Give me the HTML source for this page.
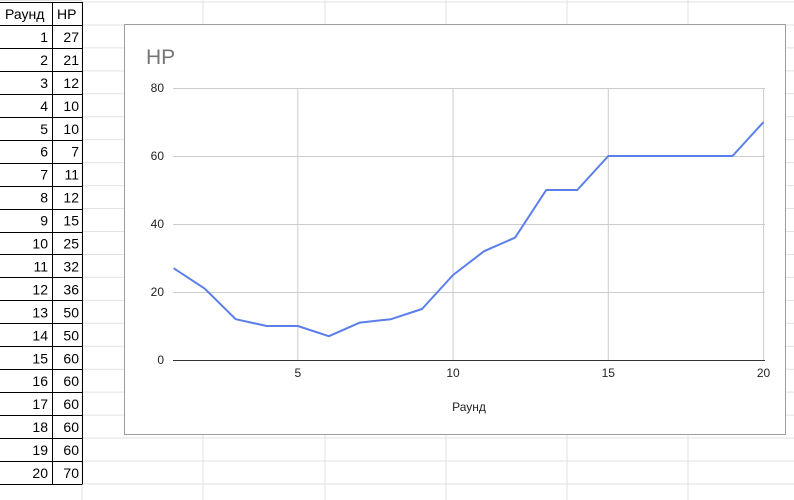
<!DOCTYPE html>
<html><head><meta charset="utf-8"><style>
body{margin:0;width:794px;height:500px;overflow:hidden;background:#fff;font-family:"Liberation Sans",Arial,sans-serif;}
</style></head><body>
<svg width="794" height="500" style="position:absolute;left:0;top:0">
<g id="grid"></g>
<g id="table"></g>
<rect x="124.5" y="24.5" width="661" height="410" fill="#fff" stroke="#9e9e9e"/>
<text x="146" y="64" font-size="21" fill="#757575">HP</text>
<g id="plot"></g>
<text x="469" y="411" font-size="12" text-anchor="middle" fill="#222">Раунд</text>
</svg>
<script>
const rounds=[1,2,3,4,5,6,7,8,9,10,11,12,13,14,15,16,17,18,19,20];
const hp=[27,21,12,10,10,7,11,12,15,25,32,36,50,50,60,60,60,60,60,70];
const xTicks=[5,10,15,20];
const yTicks=[0,20,40,60,80];
const NS="http://www.w3.org/2000/svg";
function mk(t,a,p,txt){const e=document.createElementNS(NS,t);for(const k in a)e.setAttribute(k,a[k]);if(txt!==undefined)e.textContent=txt;p.appendChild(e);return e;}
const X=v=>173.6+(v-1)*31.05, Y=v=>360-v*3.4;
// sheet grid
const g=document.getElementById('grid');
const rowH=22.95;
for(let i=0;i<=22;i++){const y=2+i*rowH;const l=mk('line',{x1:82,x2:794,y1:y,y2:y,stroke:'#e2e2e2'},g);}
for(const x of [82,203,325,446,567,688]){const l=mk('line',{x1:x,x2:x,y1:0,y2:500,stroke:'#e2e2e2'},g);}
mk('line',{x1:0,x2:82,y1:0.5,y2:0.5,stroke:'#e2e2e2'},g);
// table
const t=document.getElementById('table');
for(let i=0;i<=21;i++){const y=Math.round(2+i*rowH)+0.5;const l=mk('line',{x1:0,x2:82,y1:y,y2:y,stroke:'#000'},t);}
for(const x of [52.5,82.5]){const l=mk('line',{x1:x,x2:x,y1:2,y2:Math.round(2+21*rowH)+0.5,stroke:'#000'},t);}
const fs={'font-size':14,fill:'#000'};
let h=mk('text',{x:5,y:19,...fs},t,'Раунд');
h=mk('text',{x:57,y:19,...fs},t,'HP');
rounds.forEach((r,i)=>{const y=2+(i+1)*rowH+17;
 let c=mk('text',{x:48,y:y,'text-anchor':'end',...fs},t,r);
 c=mk('text',{x:79,y:y,'text-anchor':'end',...fs},t,hp[i]);});
// plot
const p=document.getElementById('plot');
yTicks.forEach(v=>{const l=mk('line',{x1:173,x2:765,y1:Y(v)+.5,y2:Y(v)+.5,stroke:v===0?'#333':'#ccc'},p);
 const s=mk('text',{x:164,y:Y(v)+4,'text-anchor':'end','font-size':12,fill:'#222'},p,v);});
xTicks.forEach(v=>{const l=mk('line',{x1:X(v),x2:X(v),y1:Y(80),y2:Y(0),stroke:'#ccc'},p);
 const s=mk('text',{x:X(v),y:377,'text-anchor':'middle','font-size':12,fill:'#222'},p,v);});
const ln=mk('polyline',{points:rounds.map((r,i)=>X(r)+','+Y(hp[i])).join(' '),fill:'none',stroke:'#5b7fea','stroke-width':2,'stroke-linejoin':'round'},p);


</script>
</body></html>
